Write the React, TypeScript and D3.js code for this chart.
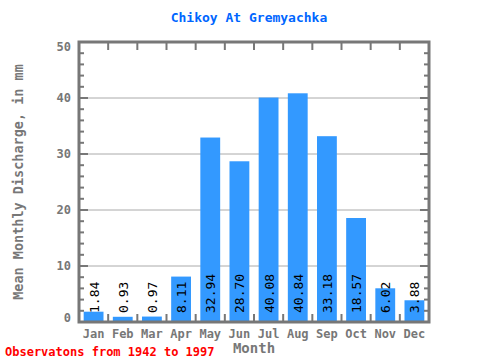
import React from "react";
import * as d3 from "d3";

const months = ["Jan","Feb","Mar","Apr","May","Jun","Jul","Aug","Sep","Oct","Nov","Dec"];
const values = [1.84,0.93,0.97,8.11,32.94,28.70,40.08,40.84,33.18,18.57,6.02,3.88];
const yTicks = [0,10,20,30,40,50];
const minorTicks = d3.range(0, 51, 2);

const W = 480, H = 360;
const L = 79, R = 429, T = 42, B = 322;
const font = "'DejaVu Sans Mono', monospace";
const axisColor = "#777777";

export default function App() {
  const x = d3.scaleBand<string>().domain(months).range([L, R]).paddingInner(0.32).paddingOuter(0.16);
  const xb = d3.scaleBand<string>().domain(months).range([L, R]);
  const y = d3.scaleLinear().domain([0, 50]).range([B, T]);
  return (
    <svg width={W} height={H} style={{ position: "absolute", left: 0, top: 0 }}>
      <rect width={W} height={H} fill="#fff" />
      <text x={249} y={22} textAnchor="middle" fontFamily={font} fontWeight="bold" fontSize={13} fill="#0066ff">Chikoy At Gremyachka</text>
      {yTicks.filter(t => t > 0 && t < 50).map(t => (
        <line key={t} x1={L} x2={R} y1={y(t)} y2={y(t)} stroke="#aaaaaa" strokeWidth={1} />
      ))}
      {values.map((v, i) => (
        <rect key={i} x={x(months[i])!} width={x.bandwidth()} y={y(v)} height={B - y(v)} fill="#3399ff" />
      ))}
      {values.map((v, i) => {
        const cx = x(months[i])! + x.bandwidth() / 2;
        const yy = B - 9;
        return (
          <text key={i} transform={`translate(${cx + 5},${yy}) rotate(-90)`} fontFamily={font} fontSize={13} fill="#000">{v.toFixed(2)}</text>
        );
      })}
      {minorTicks.map(t => (
        <g key={t}>
          <line x1={L} x2={L + (t % 10 === 0 ? 9 : 5)} y1={y(t)} y2={y(t)} stroke={axisColor} strokeWidth={2} />
          <line x1={R} x2={R - (t % 10 === 0 ? 9 : 5)} y1={y(t)} y2={y(t)} stroke={axisColor} strokeWidth={2} />
        </g>
      ))}
      {months.slice(1).map(m => (
        <g key={m}>
          <line x1={xb(m)!} x2={xb(m)!} y1={T} y2={T + 8} stroke={axisColor} strokeWidth={2} />
          <line x1={xb(m)!} x2={xb(m)!} y1={B} y2={B - 8} stroke={axisColor} strokeWidth={2} />
        </g>
      ))}
      <rect x={L} y={T} width={R - L} height={B - T} fill="none" stroke={axisColor} strokeWidth={3} />
      {yTicks.map(t => {
        const yy = t === 50 ? y(t) + 9 : t === 0 ? y(t) : y(t) + 4;
        return (
          <text key={t} x={L - 8} y={yy} textAnchor="end" fontFamily={font} fontWeight="bold" fontSize={12} fill={axisColor}>{t}</text>
        );
      })}
      {months.map(m => (
        <text key={m} x={xb(m)! + xb.bandwidth() / 2} y={B + 16} textAnchor="middle" fontFamily={font} fontWeight="bold" fontSize={12} fill={axisColor}>{m}</text>
      ))}
      <text x={(L + R) / 2} y={B + 31} textAnchor="middle" fontFamily={font} fontWeight="bold" fontSize={14} fill={axisColor}>Month</text>
      <text transform={`translate(23,${(T + B) / 2}) rotate(-90)`} textAnchor="middle" fontFamily={font} fontWeight="bold" fontSize={13.5} fill={axisColor}>Mean Monthly Discharge, in mm</text>
      <text x={5} y={356} fontFamily={font} fontWeight="bold" fontSize={12} fill="#ff0000">Observatons from 1942 to 1997</text>
    </svg>
  );
}
